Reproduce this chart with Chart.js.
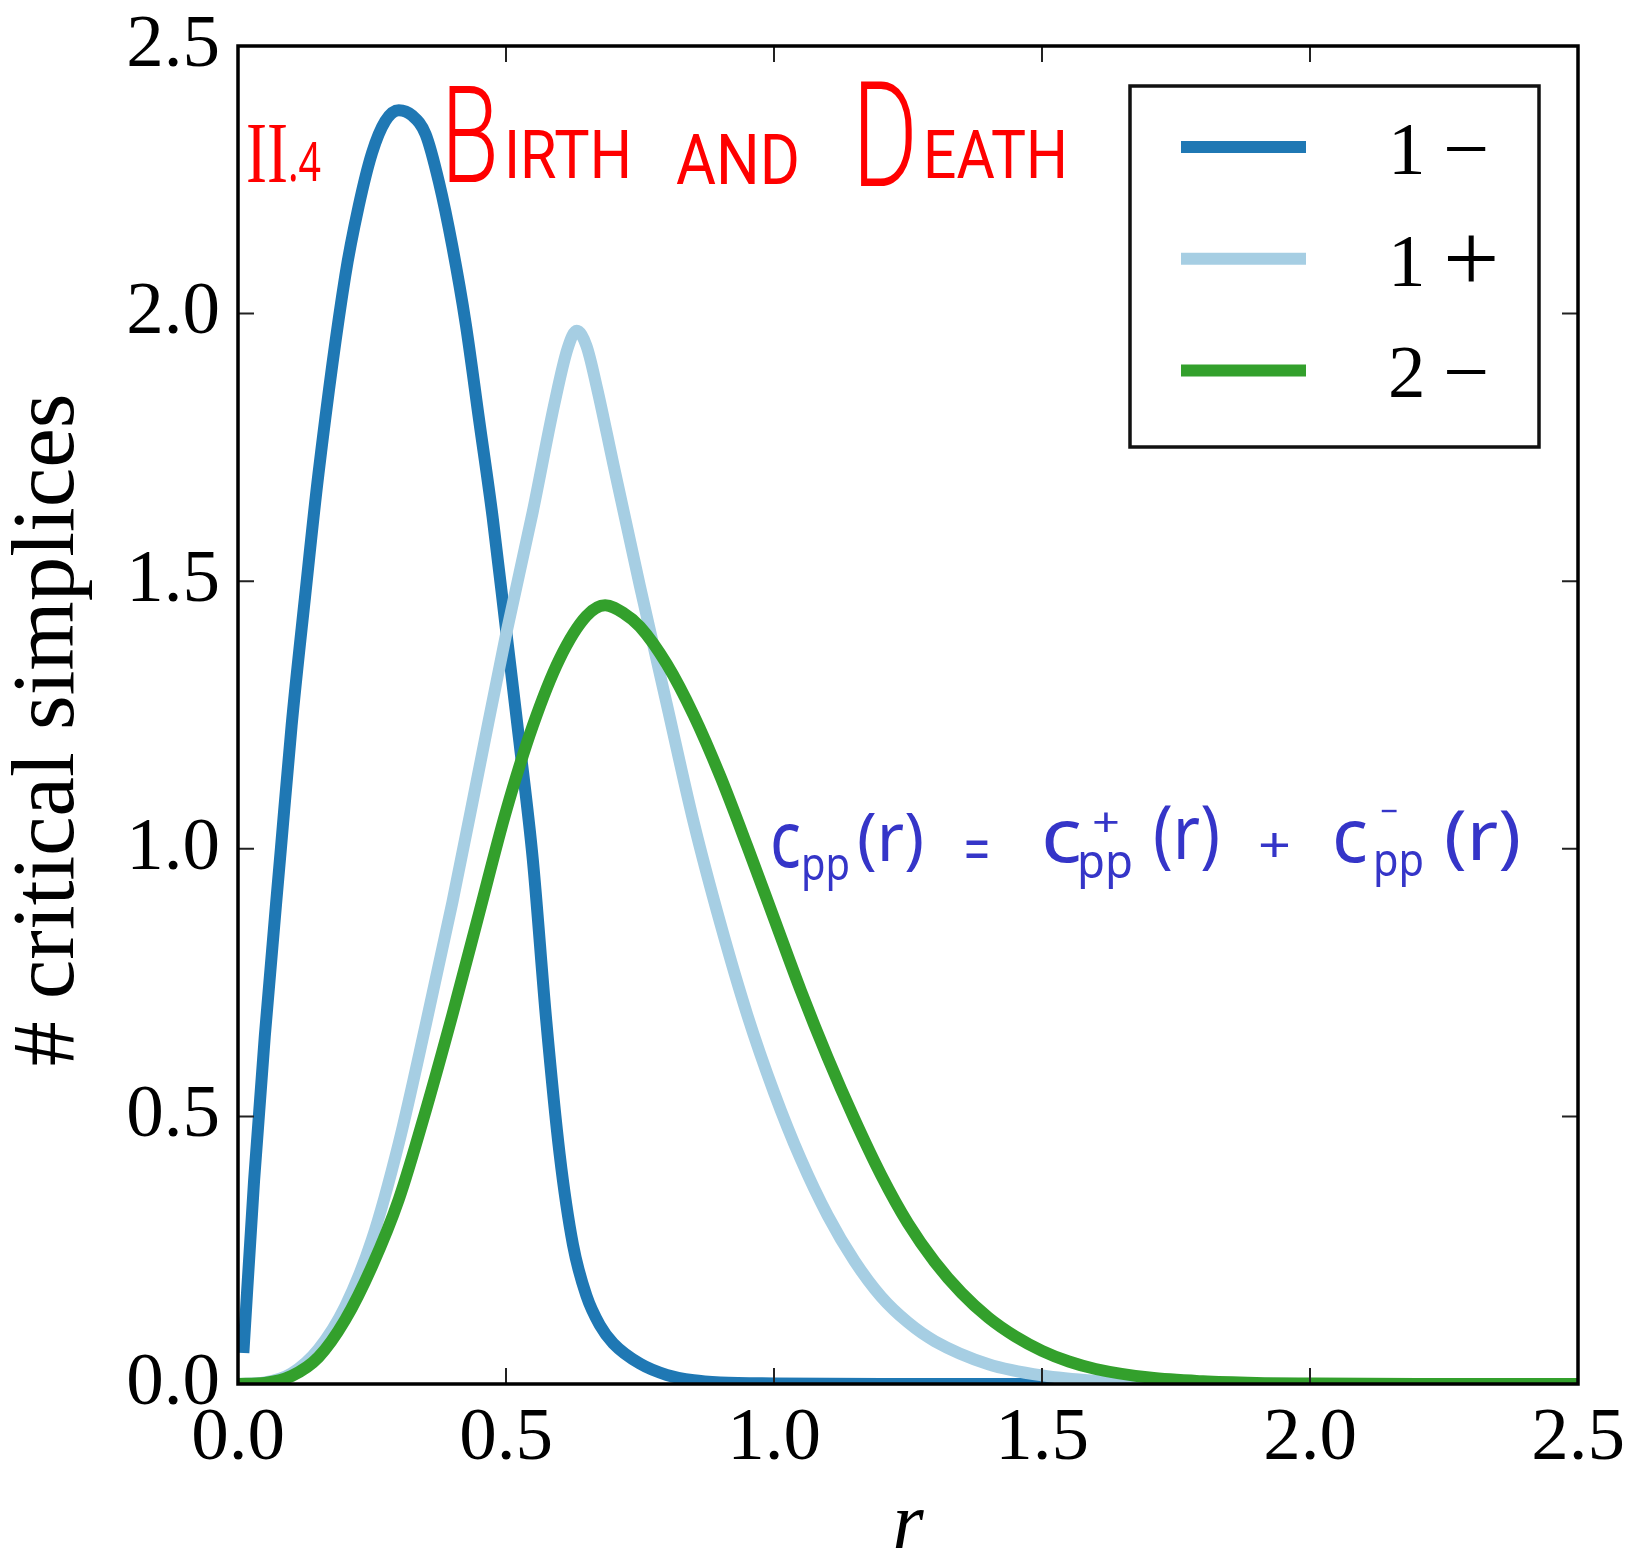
<!DOCTYPE html>
<html>
<head>
<meta charset="utf-8">
<title># critical simplices</title>
<script src="https://cdn.jsdelivr.net/npm/chart.js@4.4.1/dist/chart.umd.min.js"></script>
<style>
  html, body { margin: 0; padding: 0; background: #fff; }
  canvas { display: block; }
</style>
</head>
<body>
<canvas id="chartCrit" width="1629" height="1558"></canvas>
<script>
// values
const rMinus1 = [0.01, 0.03, 0.05, 0.08, 0.1, 0.125, 0.15, 0.2, 0.225, 0.25, 0.275, 0.3, 0.325, 0.35, 0.375, 0.4, 0.425, 0.45, 0.475, 0.5, 0.525, 0.55, 0.575, 0.6, 0.625, 0.65, 0.675, 0.7, 0.75, 0.8, 0.85, 0.9, 1.0, 1.2, 2.5]
const minus1 = [0.058, 0.38, 0.65, 1.0, 1.23, 1.47, 1.70, 2.07, 2.2, 2.30, 2.36, 2.38, 2.37, 2.335, 2.245, 2.125, 1.98, 1.80, 1.62, 1.41, 1.2, 0.98, 0.68, 0.43, 0.26, 0.165, 0.11, 0.076, 0.038, 0.017, 0.007, 0.003, 0.001, 0, 0]

const rPlus1 = [0, 0.05, 0.1, 0.15, 0.2, 0.25, 0.3, 0.35, 0.4, 0.45, 0.5, 0.55, 0.59, 0.615, 0.632, 0.65, 0.67, 0.7, 0.75, 0.8, 0.85, 0.9, 0.95, 1.0, 1.05, 1.1, 1.15, 1.2, 1.25, 1.3, 1.4, 1.5, 1.6, 1.7, 1.8, 2.0, 2.5]
const plus1 = [0, 0.003, 0.02, 0.065, 0.145, 0.27, 0.45, 0.67, 0.9, 1.15, 1.4, 1.63, 1.83, 1.935, 1.968, 1.94, 1.86, 1.72, 1.49, 1.27, 1.05, 0.86, 0.69, 0.545, 0.42, 0.315, 0.23, 0.163, 0.115, 0.08, 0.037, 0.016, 0.006, 0.002, 0.001, 0, 0]

const rMinus2 = [0, 0.05, 0.1, 0.15, 0.2, 0.25, 0.3, 0.35, 0.4, 0.45, 0.5, 0.55, 0.6, 0.65, 0.685, 0.72, 0.75, 0.8, 0.85, 0.9, 0.95, 1.0, 1.05, 1.1, 1.15, 1.2, 1.25, 1.3, 1.35, 1.4, 1.45, 1.5, 1.55, 1.6, 1.7, 1.8, 1.9, 2.0, 2.2, 2.5]
const minus2 = [0, 0.002, 0.015, 0.05, 0.12, 0.22, 0.345, 0.51, 0.69, 0.88, 1.07, 1.23, 1.355, 1.435, 1.455, 1.44, 1.415, 1.345, 1.25, 1.135, 1.005, 0.87, 0.735, 0.61, 0.495, 0.39, 0.3, 0.228, 0.17, 0.124, 0.089, 0.062, 0.042, 0.028, 0.012, 0.005, 0.002, 0.001, 0, 0]

const xTicks = [0, 0.5, 1.0, 1.5, 2.0, 2.5]
const yTicks = [0, 0.5, 1.0, 1.5, 2.0, 2.5]
const seriesLabels = ['1 −', '1 +', '2 −']
const seriesColors = ['#1f78b4', '#a6cee3', '#33a02c']

const serif = '"Liberation Serif", "DejaVu Serif", serif'
const ctx = document.getElementById('chartCrit')

function points(xs, ys) {
  return xs.map((x, i) => ({ x: x, y: ys[i] }))
}

// stretch a piece of text to a given width (handwritten notes)
function fitText(c, text, x, y, w, font) {
  c.font = font
  const m = c.measureText(text).width
  c.save()
  c.translate(x, y)
  c.scale(w / m, 1)
  c.fillText(text, 0, 0)
  c.restore()
}

// ticks pointing inwards on all four sides + black frame
const frameTicks = {
  id: 'frameTicks',
  afterDatasetsDraw(chart) {
    const c = chart.ctx
    const a = chart.chartArea
    const xs = chart.scales.x
    const ys = chart.scales.y
    c.save()
    c.strokeStyle = '#222'
    c.lineWidth = 2
    c.beginPath()
    xTicks.forEach(v => {
      const px = xs.getPixelForValue(v)
      c.moveTo(px, a.bottom); c.lineTo(px, a.bottom - 16)
      c.moveTo(px, a.top); c.lineTo(px, a.top + 16)
    })
    yTicks.forEach(v => {
      const py = ys.getPixelForValue(v)
      c.moveTo(a.left, py); c.lineTo(a.left + 16, py)
      c.moveTo(a.right, py); c.lineTo(a.right - 16, py)
    })
    c.stroke()
    c.strokeStyle = '#000'
    c.lineWidth = 3.5
    c.strokeRect(a.left, a.top, a.right - a.left, a.bottom - a.top)
    c.restore()
  }
}

// legend box in the upper right of the axes
const boxLegend = {
  id: 'boxLegend',
  afterDraw(chart) {
    const c = chart.ctx
    const a = chart.chartArea
    const bx = a.right - 448, by = a.top + 40, bw = 409, bh = 361
    c.save()
    c.fillStyle = '#fff'
    c.fillRect(bx, by, bw, bh)
    c.strokeStyle = '#111'
    c.lineWidth = 3.5
    c.strokeRect(bx, by, bw, bh)
    chart.data.datasets.forEach((ds, i) => {
      const yRow = by + 61 + i * 111.7
      c.strokeStyle = ds.borderColor
      c.lineWidth = 12
      c.beginPath()
      c.moveTo(bx + 51, yRow)
      c.lineTo(bx + 176, yRow)
      c.stroke()
      const parts = ds.label.split(' ')
      c.fillStyle = '#000'
      c.textBaseline = 'alphabetic'
      c.font = '75px ' + serif
      c.fillText(parts[0], bx + 258, yRow + 27)
      const sz = parts[1] === '+' ? 100 : 82
      c.font = sz + 'px ' + serif
      c.fillText(parts[1], bx + 313, yRow + 8 + 0.25 * sz)
    })
    c.restore()
  }
}

// the red and blue handwritten notes on top of the plot
const notes = {
  id: 'notes',
  afterDraw(chart) {
    const c = chart.ctx
    c.save()
    c.textBaseline = 'alphabetic'
    c.fillStyle = '#f00'
    fitText(c, 'II', 246, 182, 42, '86px ' + serif)
    fitText(c, '.4', 288, 181, 33, '400 54px "Noto Sans"')
    fitText(c, 'B', 441, 182, 58, '300 136px Roboto')
    fitText(c, 'IRTH', 504, 178, 128, '400 67px Roboto')
    fitText(c, 'AND', 676, 184, 124, '400 70px Roboto')
    fitText(c, 'D', 852, 186, 66, '300 146px Roboto')
    fitText(c, 'EATH', 923, 178, 145, '400 67px Roboto')

    c.fillStyle = '#3535c8'
    const f = s => '400 ' + s + 'px "Noto Sans"'
    fitText(c, 'c', 770, 867, 31, f(78))
    fitText(c, 'pp', 801, 880, 49, f(46))
    fitText(c, '(r)', 857, 861, 67, f(67))
    fitText(c, '=', 964, 872, 26, f(64))
    fitText(c, 'c', 1041, 862, 41, f(74))
    fitText(c, '+', 1092, 836, 28, f(40))
    fitText(c, 'pp', 1077, 878, 56, f(48))
    fitText(c, '(r)', 1153, 859, 67, f(74))
    fitText(c, '+', 1258, 862, 33, f(50))
    fitText(c, 'c', 1332, 862, 36, f(74))
    fitText(c, '−', 1380, 823, 18, f(34))
    fitText(c, 'pp', 1373, 876, 51, f(46))
    fitText(c, '(r)', 1444, 860, 77, f(69))
    c.restore()
  }
}

const lineStyle = {
  borderWidth: 12,
  pointRadius: 0,
  fill: false,
  cubicInterpolationMode: 'monotone',
  borderJoinStyle: 'round',
  clip: 0
}

const chartCrit = new Chart(ctx, {
  type: 'line',
  data: {
    datasets: [
      Object.assign({ label: seriesLabels[0], data: points(rMinus1, minus1), borderColor: seriesColors[0], order: 3 }, lineStyle),
      Object.assign({ label: seriesLabels[1], data: points(rPlus1, plus1), borderColor: seriesColors[1], order: 2 }, lineStyle),
      Object.assign({ label: seriesLabels[2], data: points(rMinus2, minus2), borderColor: seriesColors[2], order: 1 }, lineStyle)
    ]
  },
  options: {
    responsive: false,
    devicePixelRatio: 1,
    animation: false,
    events: [],
    layout: { padding: { top: 46, right: 51, left: 0, bottom: 0 } },
    plugins: {
      legend: { display: false },
      tooltip: { enabled: false }
    },
    scales: {
      x: {
        type: 'linear',
        min: 0,
        max: 2.5,
        afterBuildTicks: s => { s.ticks = xTicks.map(v => ({ value: v })) },
        afterFit: s => { s.height = 174; s.paddingLeft = 0; s.paddingRight = 0 },
        grid: { display: false, drawTicks: false },
        border: { display: false },
        ticks: {
          color: '#000',
          font: { family: serif, size: 75 },
          padding: 10,
          maxRotation: 0,
          autoSkip: false,
          callback: v => v.toFixed(1)
        },
        title: {
          display: true,
          text: 'r',
          color: '#000',
          font: { family: serif, size: 80, style: 'italic', lineHeight: 1 },
          padding: { top: 0, bottom: -9 }
        }
      },
      y: {
        type: 'linear',
        min: 0,
        max: 2.5,
        afterBuildTicks: s => { s.ticks = yTicks.map(v => ({ value: v })) },
        afterFit: s => { s.width = 238; s.paddingTop = 0; s.paddingBottom = 0 },
        grid: { display: false, drawTicks: false },
        border: { display: false },
        ticks: {
          color: '#000',
          font: { family: serif, size: 75 },
          padding: 18,
          autoSkip: false,
          callback: v => v.toFixed(1)
        },
        title: {
          display: true,
          text: '# critical simplices\u2004',
          color: '#000',
          font: { family: serif, size: 89, lineHeight: 1 },
          padding: { top: 5, bottom: 0 }
        }
      }
    }
  },
  plugins: [frameTicks, boxLegend, notes]
})
</script>
</body>
</html>
